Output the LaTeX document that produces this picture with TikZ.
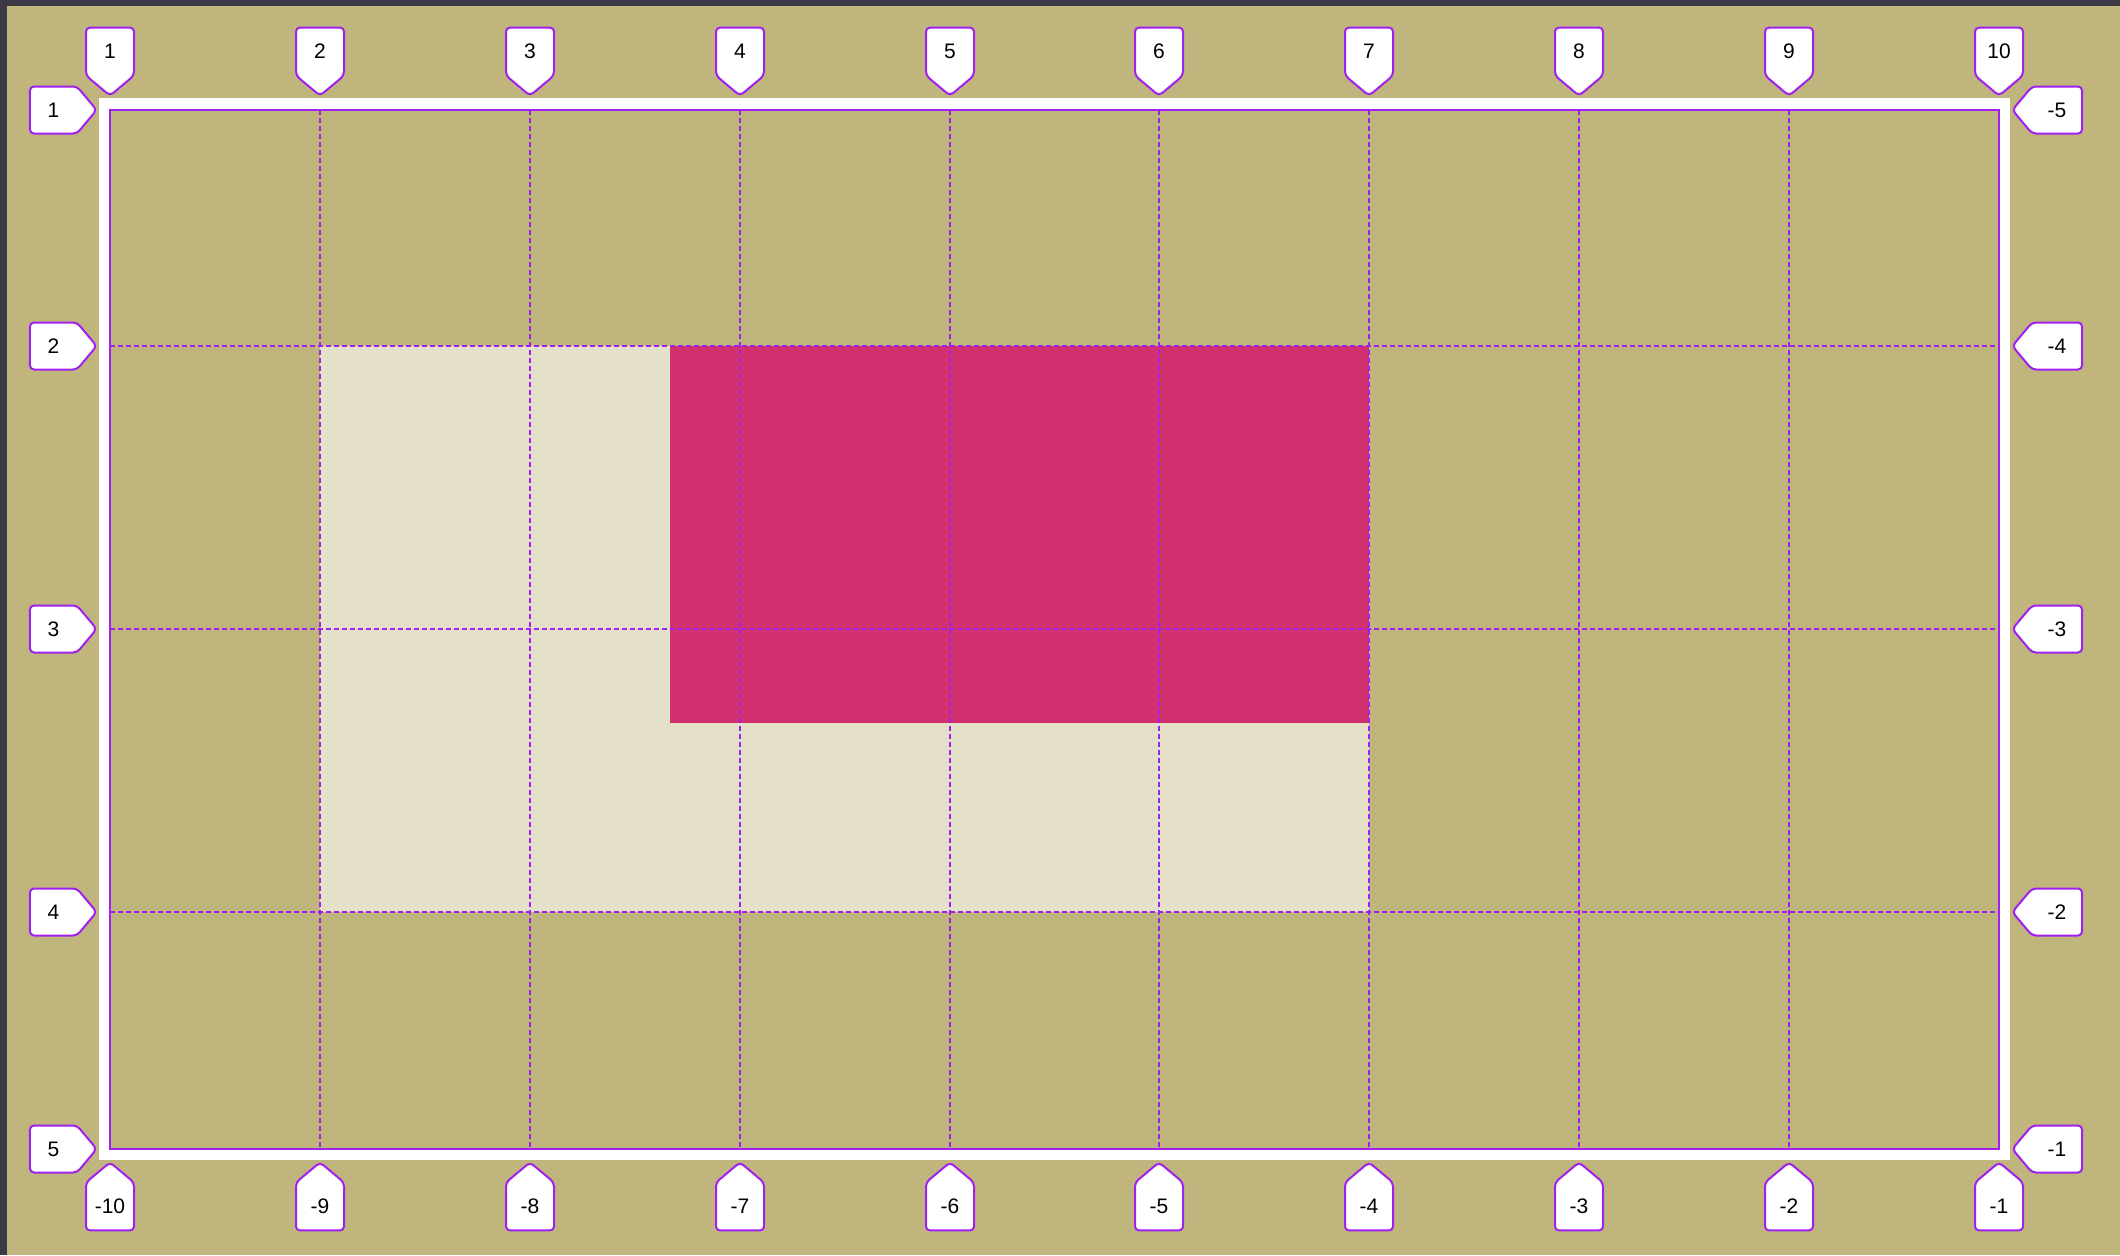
\documentclass[tikz,border=0pt]{standalone}
\usepackage{fontspec}
\setmainfont{Liberation Sans}
\usetikzlibrary{shapes.symbols}
\definecolor{edge}{HTML}{3C3A46}
\definecolor{field}{HTML}{C1B57E}
\definecolor{cream}{HTML}{E5E0C9}
\definecolor{rose}{HTML}{D1316F}
\definecolor{violet}{HTML}{A020F0}
\tikzset{
  tag/.style={signal,draw=violet,line width=1pt,fill=white,rounded corners=2pt,inner sep=0pt,minimum width=0pt,minimum height=0pt,text width=24pt,align=center,text height=15.6pt,text depth=8.4pt,signal pointer angle=100,font=\fontsize{10.5}{12}\selectfont,text=black},
  tagdown/.style={tag,signal to=south,anchor=south},
  tagup/.style={tag,signal to=north,anchor=north},
  tagright/.style={tag,text width=23.5pt,text height=15.4pt,text depth=8.1pt,signal to=east,anchor=east},
  tagleft/.style={tag,text width=25pt,text height=15.4pt,text depth=8.1pt,signal to=west,anchor=west},
  gridline/.style={draw=violet,line width=.75pt,dash pattern=on 2.5pt off 1.5pt},
}
\begin{document}
\begin{tikzpicture}[x=.5pt,y=-.5pt]
\useasboundingbox (0,0) rectangle (2120,1255);
\fill[field] (0,0) rectangle (2120,1255);
\fill[edge] (0,0) rectangle (2120,6);
\fill[edge] (0,0) rectangle (7,1255);
% frame and areas
\fill[white] (99,98) rectangle (2010,1160);
\fill[field] (110,110) rectangle (1999,1149);
\fill[cream] (320,346) rectangle (1369,912);
\fill[rose] (670,346) rectangle (1369,723);
% dashed grid
\draw[gridline] (320,110) -- (320,1149);
\draw[gridline] (530,110) -- (530,1149);
\draw[gridline] (740,110) -- (740,1149);
\draw[gridline] (950,110) -- (950,1149);
\draw[gridline] (1159,110) -- (1159,1149);
\draw[gridline] (1369,110) -- (1369,1149);
\draw[gridline] (1579,110) -- (1579,1149);
\draw[gridline] (1789,110) -- (1789,1149);
\draw[gridline] (110,346) -- (1999,346);
\draw[gridline] (110,629) -- (1999,629);
\draw[gridline] (110,912) -- (1999,912);
\draw[violet,line width=1pt] (110,110) rectangle (1999,1149);
% column tags
\node[tagdown] (t1) at (110,97) {1};
\node[tagdown] (t2) at (320,97) {2};
\node[tagdown] (t3) at (530,97) {3};
\node[tagdown] (t4) at (740,97) {4};
\node[tagdown] (t5) at (950,97) {5};
\node[tagdown] (t6) at (1159,97) {6};
\node[tagdown] (t7) at (1369,97) {7};
\node[tagdown] (t8) at (1579,97) {8};
\node[tagdown] (t9) at (1789,97) {9};
\node[tagdown] (t10) at (1999,97) {10};
\node[tagup] (b1) at (110,1161) {-10};
\node[tagup] (b2) at (320,1161) {-9};
\node[tagup] (b3) at (530,1161) {-8};
\node[tagup] (b4) at (740,1161) {-7};
\node[tagup] (b5) at (950,1161) {-6};
\node[tagup] (b6) at (1159,1161) {-5};
\node[tagup] (b7) at (1369,1161) {-4};
\node[tagup] (b8) at (1579,1161) {-3};
\node[tagup] (b9) at (1789,1161) {-2};
\node[tagup] (b10) at (1999,1161) {-1};
% row tags
\node[tagright] (l1) at (98,110) {1};
\node[tagright] (l2) at (98,346) {2};
\node[tagright] (l3) at (98,629) {3};
\node[tagright] (l4) at (98,912) {4};
\node[tagright] (l5) at (98,1149) {5};
\node[tagleft] (r1) at (2011,110) {-5};
\node[tagleft] (r2) at (2011,346) {-4};
\node[tagleft] (r3) at (2011,629) {-3};
\node[tagleft] (r4) at (2011,912) {-2};
\node[tagleft] (r5) at (2011,1149) {-1};
\end{tikzpicture}
\end{document}
